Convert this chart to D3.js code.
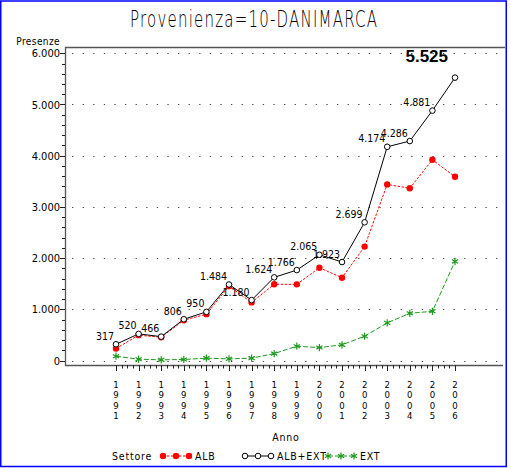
<!DOCTYPE html>
<html>
<head>
<meta charset="utf-8">
<script src="https://cdn.jsdelivr.net/npm/d3@7"></script>
<style>
  body { margin: 0; background: #fff; }
  svg { display: block; }
  text { font-family: "DejaVu Sans Condensed", "Liberation Sans Narrow", sans-serif; fill: #000; }
</style>
</head>
<body>
<div id="chart"></div>
<script>
const anni = [1991, 1992, 1993, 1994, 1995, 1996, 1997, 1998, 1999, 2000, 2001, 2002, 2003, 2004, 2005, 2006];
const albExt = [317, 520, 466, 806, 950, 1484, 1180, 1624, 1766, 2065, 1923, 2699, 4174, 4286, 4881, 5525];
const alb = [233, 495, 453, 786, 905, 1452, 1135, 1489, 1487, 1812, 1617, 2225, 3439, 3364, 3920, 3589];
const ext = [84, 25, 13, 20, 45, 32, 45, 135, 279, 253, 306, 474, 735, 922, 961, 1936];
const yTicks = [0, 1000, 2000, 3000, 4000, 5000, 6000];

const width = 511, height = 468;
const box = { left: 65, right: 503, top: 47, bottom: 365 };

const svg = d3.select("#chart").append("svg")
    .attr("width", width)
    .attr("height", height);

// blue frame round the whole picture
svg.append("rect")
    .attr("x", 0.75).attr("y", 1)
    .attr("width", 505.5).attr("height", 465.5)
    .attr("fill", "none")
    .attr("stroke", "#0000ff")
    .attr("stroke-width", 1.5);

const x = d3.scaleLinear().domain([1991, 2006]).range([116, 455]);
const y = d3.scaleLinear().domain([0, 6000]).range([360.5, 53.3]);

const fmt = v => d3.format(",")(v).replace(/,/g, ".");

// title, thin and tall like the SAS simplex font
svg.append("text")
    .attr("transform", "translate(130,26.5) scale(1,1.5)")
    .attr("textLength", 247)
    .attr("lengthAdjust", "spacing")
    .style("font-family", "'DejaVu Sans', sans-serif")
    .style("font-weight", 200)
    .style("font-size", "15px")
    .text("Provenienza=10-DANIMARCA");

// dotted grid
svg.append("g")
    .selectAll("line")
    .data(yTicks)
    .join("line")
    .attr("x1", 72).attr("x2", 502)
    .attr("y1", d => Math.round(y(d)) + 0.5)
    .attr("y2", d => Math.round(y(d)) + 0.5)
    .attr("stroke", "#444")
    .attr("stroke-dasharray", "1.3,9.3");

// box: top, left and bottom lines
svg.append("path")
    .attr("d", `M${box.right + 2},${box.top + 0.5}H${box.left + 0.5}V${box.bottom + 0.5}H${box.right}`)
    .attr("fill", "none")
    .attr("stroke", "#555")
    .attr("stroke-width", 1.3);

// y axis ticks
const yMinor = d3.range(0, 6001, 200);
svg.append("g")
    .selectAll("line")
    .data(yMinor)
    .join("line")
    .attr("x1", box.left)
    .attr("x2", d => d % 1000 === 0 ? box.left - 5 : box.left - 3)
    .attr("y1", d => Math.round(y(d)) + 0.5)
    .attr("y2", d => Math.round(y(d)) + 0.5)
    .attr("stroke", "#222");

svg.append("g")
    .selectAll("text")
    .data(yTicks)
    .join("text")
    .attr("x", 60)
    .attr("y", d => y(d) + 4)
    .attr("text-anchor", "end")
    .style("font-size", "11px")
    .text(d => fmt(d));

svg.append("text")
    .attr("x", 60).attr("y", 45)
    .attr("text-anchor", "end")
    .style("font-size", "10px")
    .attr("letter-spacing", "0.4px")
    .text("Presenze");

// x axis ticks
const xMinor = d3.range(0, 61).map(i => 1991 + i / 4);
svg.append("g")
    .selectAll("line")
    .data(xMinor)
    .join("line")
    .attr("x1", d => Math.round(x(d)) + 0.5)
    .attr("x2", d => Math.round(x(d)) + 0.5)
    .attr("y1", box.bottom)
    .attr("y2", (d, i) => i % 4 === 0 ? box.bottom + 6 : box.bottom + 3.5)
    .attr("stroke", "#222");

// years written as stacked digits
const yearLabels = svg.append("g")
    .selectAll("text")
    .data(anni)
    .join("text")
    .attr("text-anchor", "middle")
    .style("font-size", "9.5px");
yearLabels.selectAll("tspan")
    .data(d => String(d).split("").map(c => ({ c, yr: d })))
    .join("tspan")
    .attr("x", d => x(d.yr))
    .attr("y", (d, i) => 388 + i * 10.3)
    .text(d => d.c);

svg.append("text")
    .attr("x", 286).attr("y", 441)
    .attr("text-anchor", "middle")
    .style("font-size", "10.5px")
    .attr("letter-spacing", "0.8px")
    .text("Anno");

// series
const lineGen = vals => d3.line()
    .x((d, i) => x(anni[i]))
    .y(d => y(d))(vals);

svg.append("path")
    .attr("d", lineGen(ext))
    .attr("fill", "none")
    .attr("stroke", "#1f9a1f")
    .attr("stroke-dasharray", "5,2");

svg.append("path")
    .attr("d", lineGen(alb))
    .attr("fill", "none")
    .attr("stroke", "#ff0000")
    .attr("stroke-dasharray", "2.5,1.5");

svg.append("path")
    .attr("d", lineGen(albExt))
    .attr("fill", "none")
    .attr("stroke", "#000");

const star = d3.symbol().type(d3.symbolAsterisk).size(36);

svg.append("g")
    .selectAll("path")
    .data(ext)
    .join("path")
    .attr("transform", (d, i) => `translate(${x(anni[i])},${y(d)})`)
    .attr("d", star)
    .attr("fill", "none")
    .attr("stroke", "#1f9a1f")
    .attr("stroke-width", 1.2);

svg.append("g")
    .selectAll("circle")
    .data(alb)
    .join("circle")
    .attr("cx", (d, i) => x(anni[i]))
    .attr("cy", d => y(d))
    .attr("r", 3.2)
    .attr("fill", "#ff0000");

svg.append("g")
    .selectAll("circle")
    .data(albExt)
    .join("circle")
    .attr("cx", (d, i) => x(anni[i]))
    .attr("cy", d => y(d))
    .attr("r", 2.8)
    .attr("fill", "#fff")
    .attr("stroke", "#000");

// value labels over ALB+EXT, the last one set apart in bold
svg.append("g")
    .selectAll("text")
    .data(albExt.slice(0, -1))
    .join("text")
    .attr("x", (d, i) => x(anni[i]) - 2)
    .attr("y", d => y(d) - 4.5)
    .attr("text-anchor", "end")
    .style("font-size", "10.5px")
    .text(d => fmt(d));

svg.append("text")
    .attr("x", 448).attr("y", 62)
    .attr("text-anchor", "end")
    .style("font-family", "'Liberation Sans', Arial, sans-serif")
    .style("font-weight", "bold")
    .style("font-size", "17px")
    .text(fmt(albExt[albExt.length - 1]));

// legend
const legendY = 456;
svg.append("text")
    .attr("x", 112).attr("y", legendY + 4)
    .style("font-size", "10.5px")
    .attr("letter-spacing", "0.8px")
    .text("Settore");

const legend = [
    { name: "ALB", x0: 163, tx: 195, color: "#ff0000", mark: "dot", dash: "2.5,1.5" },
    { name: "ALB+EXT", x0: 245, tx: 277, color: "#000", mark: "ring", dash: null },
    { name: "EXT", x0: 328, tx: 360, color: "#1f9a1f", mark: "star", dash: "5,2" }
];

const lg = svg.append("g")
    .selectAll("g")
    .data(legend)
    .join("g");

lg.append("line")
    .attr("x1", d => d.x0).attr("x2", d => d.x0 + 26)
    .attr("y1", legendY).attr("y2", legendY)
    .attr("stroke", d => d.color)
    .attr("stroke-dasharray", d => d.dash);

lg.each(function (d) {
    const g = d3.select(this);
    [0, 13, 26].forEach(dx => {
        if (d.mark === "dot") {
            g.append("circle").attr("cx", d.x0 + dx).attr("cy", legendY).attr("r", 3.2).attr("fill", d.color);
        } else if (d.mark === "ring") {
            g.append("circle").attr("cx", d.x0 + dx).attr("cy", legendY).attr("r", 2.8)
                .attr("fill", "#fff").attr("stroke", d.color);
        } else {
            g.append("path").attr("transform", `translate(${d.x0 + dx},${legendY})`)
                .attr("d", star).attr("fill", "none").attr("stroke", d.color).attr("stroke-width", 1.2);
        }
    });
});

lg.append("text")
    .attr("x", d => d.tx).attr("y", legendY + 4)
    .style("font-size", "10.5px")
    .attr("letter-spacing", "0.8px")
    .text(d => d.name);
</script>
</body>
</html>
